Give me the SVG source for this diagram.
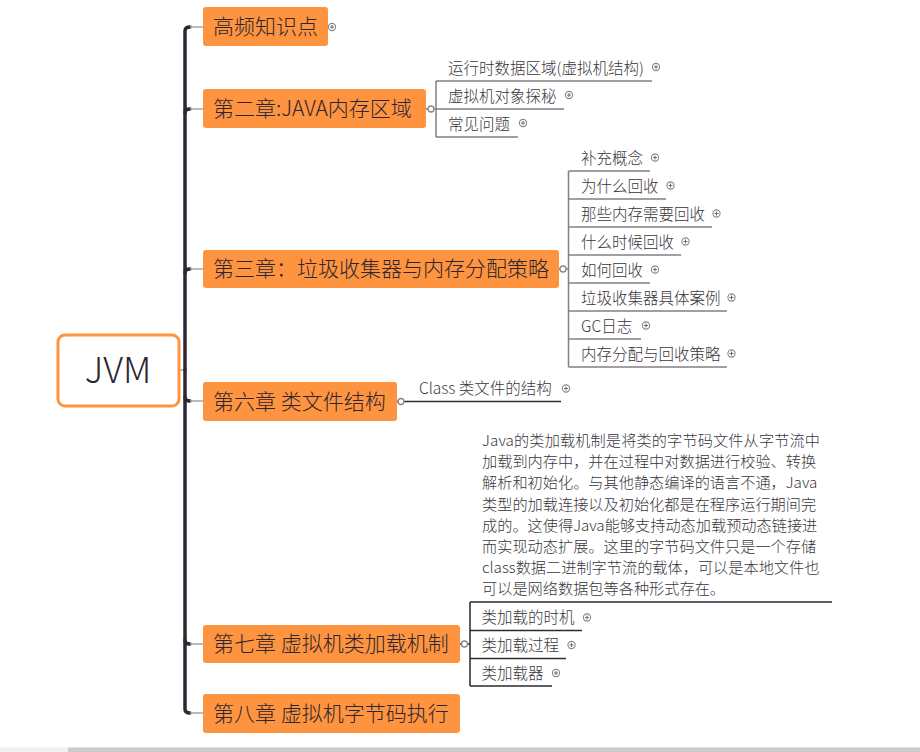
<svg xmlns="http://www.w3.org/2000/svg" width="920" height="752" viewBox="0 0 920 752">
<style>
.bg{fill:#ffffff}
.node{fill:#FE943F;stroke:none}
.ntext{font-family:"Noto Sans CJK SC","Liberation Sans",sans-serif;font-size:21px;font-weight:300;fill:#2b2630}
.ctext{font-family:"Noto Sans CJK SC","Liberation Sans",sans-serif;font-size:15.5px;font-weight:300;fill:#3a353d}
.ltext{font-family:"Noto Sans CJK SC","Liberation Sans",sans-serif;font-size:15.2px;font-weight:300;fill:#3a353d}
.spine{fill:none;stroke:#2e2731;stroke-width:3.5;stroke-linecap:round}
.stub{fill:none;stroke:#a8a4ab;stroke-width:1.5}
.br{fill:none;stroke:#857e89;stroke-width:1.5}
.brd{fill:none;stroke:#2f2933;stroke-width:1.5}
.coll{fill:#ffffff;stroke:#8a8590;stroke-width:1.3}
.plus circle{fill:#ffffff;stroke:#8a8590;stroke-width:1.1}
.plus path{stroke:#6d6873;stroke-width:1}
</style>
<defs>
<g id="pl" class="plus"><circle r="3.6"/><path d="M-2,0H2M0,-2V2"/></g>
</defs>
<rect class="bg" x="0" y="0" width="920" height="752"/>
<rect x="0" y="747.5" width="68" height="4.5" fill="#f0f0f0"/>
<rect x="68" y="747.5" width="852" height="4.5" fill="#cccccc"/>

<g id="connectors">
<path class="stub" d="M180,370H185"/>
<path class="spine" d="M185,370V31Q185,27 190,27"/>
<path class="spine" d="M185,370V709Q185,713 190,713"/>
<path class="spine" d="M185,113Q185,109 190,109"/>
<path class="spine" d="M185,273Q185,269 190,269"/>
<path class="spine" d="M185,397Q185,401 190,401"/>
<path class="spine" d="M185,640Q185,644 190,644"/>
<path class="stub" d="M190,27H203M190,109H203M190,269H203M190,401H203M190,644H203M190,713H203"/>
<path class="br" d="M426,109H428M434,109H436M436,81V137M436,81H652M436,109H564M436,137H518"/>
<path class="br" d="M559,269H560M566,269H568.5M568.5,171V367M568.5,171H650M568.5,199H666M568.5,227H712M568.5,255H681M568.5,283H650M568.5,311H727M568.5,339H641M568.5,367H727"/>
<path class="brd" d="M397,401.5H398M404,401.5H561"/>
<path class="brd" d="M460,644H461.5M467.5,644H470M470,602V686M470,602H832M470,630.5H582M470,658.5H566M470,686H552"/>
<circle class="coll" cx="431" cy="109" r="3"/>
<circle class="coll" cx="563" cy="269" r="3"/>
<circle class="coll" cx="401" cy="401.5" r="3"/>
<circle class="coll" cx="464.5" cy="644" r="3"/>
</g>

<g id="root">
<rect x="58" y="335" width="121" height="71" rx="7" fill="#ffffff" stroke="#FE943F" stroke-width="3"/>
<text x="118" y="383" text-anchor="middle" font-family="'Noto Sans CJK SC','Liberation Sans',sans-serif" font-size="36" font-weight="300" fill="#2b2630">JVM</text>
</g>

<g id="n1">
<rect class="node" x="203" y="7" width="125" height="39" rx="3"/>
<text class="ntext" x="213" y="34">高频知识点</text>
<use href="#pl" x="332" y="27"/>
</g>

<g id="n2">
<rect class="node" x="203" y="89" width="223" height="39" rx="3"/>
<text class="ntext" x="213" y="116">第二章:JAVA内存区域</text>
</g>
<g id="n2c1"><text class="ctext" x="448" y="74">运行时数据区域(虚拟机结构)</text><use href="#pl" x="656" y="67"/></g>
<g id="n2c2"><text class="ctext" x="448" y="102">虚拟机对象探秘</text><use href="#pl" x="569" y="95"/></g>
<g id="n2c3"><text class="ctext" x="448" y="130">常见问题</text><use href="#pl" x="523" y="123"/></g>

<g id="n3">
<rect class="node" x="203" y="250" width="356" height="38" rx="3"/>
<text class="ntext" x="213" y="276">第三章：垃圾收集器与内存分配策略</text>
</g>
<g id="n3c1"><text class="ctext" x="581" y="164">补充概念</text><use href="#pl" x="655" y="157.5"/></g>
<g id="n3c2"><text class="ctext" x="581" y="192">为什么回收</text><use href="#pl" x="670.5" y="185.5"/></g>
<g id="n3c3"><text class="ctext" x="581" y="220">那些内存需要回收</text><use href="#pl" x="716.5" y="213.5"/></g>
<g id="n3c4"><text class="ctext" x="581" y="248">什么时候回收</text><use href="#pl" x="685.5" y="241.5"/></g>
<g id="n3c5"><text class="ctext" x="581" y="276">如何回收</text><use href="#pl" x="655" y="269.5"/></g>
<g id="n3c6"><text class="ctext" x="581" y="304">垃圾收集器具体案例</text><use href="#pl" x="731.5" y="297.5"/></g>
<g id="n3c7"><text class="ctext" x="581" y="332">GC日志</text><use href="#pl" x="646" y="325.5"/></g>
<g id="n3c8"><text class="ctext" x="581" y="360">内存分配与回收策略</text><use href="#pl" x="731.5" y="353.5"/></g>

<g id="n6">
<rect class="node" x="203" y="382" width="194" height="39" rx="3"/>
<text class="ntext" x="213" y="409">第六章 类文件结构</text>
</g>
<g id="n6c1"><text class="ctext" x="419" y="394">Class 类文件的结构</text><use href="#pl" x="566" y="388.5"/></g>

<g id="n7">
<rect class="node" x="203" y="625" width="257" height="38" rx="3"/>
<text class="ntext" x="213" y="651">第七章 虚拟机类加载机制</text>
</g>
<g id="n7c0">
<text class="ltext" x="482" y="446" textLength="338" lengthAdjust="spacing">Java的类加载机制是将类的字节码文件从字节流中</text>
<text class="ltext" x="482" y="467.2">加载到内存中，并在过程中对数据进行校验、转换</text>
<text class="ltext" x="482" y="488.4">解析和初始化。与其他静态编译的语言不通，Java</text>
<text class="ltext" x="482" y="509.6">类型的加载连接以及初始化都是在程序运行期间完</text>
<text class="ltext" x="482" y="530.8">成的。这使得Java能够支持动态加载预动态链接进</text>
<text class="ltext" x="482" y="552">而实现动态扩展。这里的字节码文件只是一个存储</text>
<text class="ltext" x="482" y="573.2">class数据二进制字节流的载体，可以是本地文件也</text>
<text class="ltext" x="482" y="594.4">可以是网络数据包等各种形式存在。</text>
</g>
<g id="n7c1"><text class="ctext" x="481.5" y="623">类加载的时机</text><use href="#pl" x="587" y="617.5"/></g>
<g id="n7c2"><text class="ctext" x="481.5" y="651">类加载过程</text><use href="#pl" x="571.5" y="645"/></g>
<g id="n7c3"><text class="ctext" x="481.5" y="678.5">类加载器</text><use href="#pl" x="556" y="673"/></g>

<g id="n8">
<rect class="node" x="203" y="694" width="257" height="39" rx="3"/>
<text class="ntext" x="213" y="721">第八章 虚拟机字节码执行</text>
</g>
</svg>
